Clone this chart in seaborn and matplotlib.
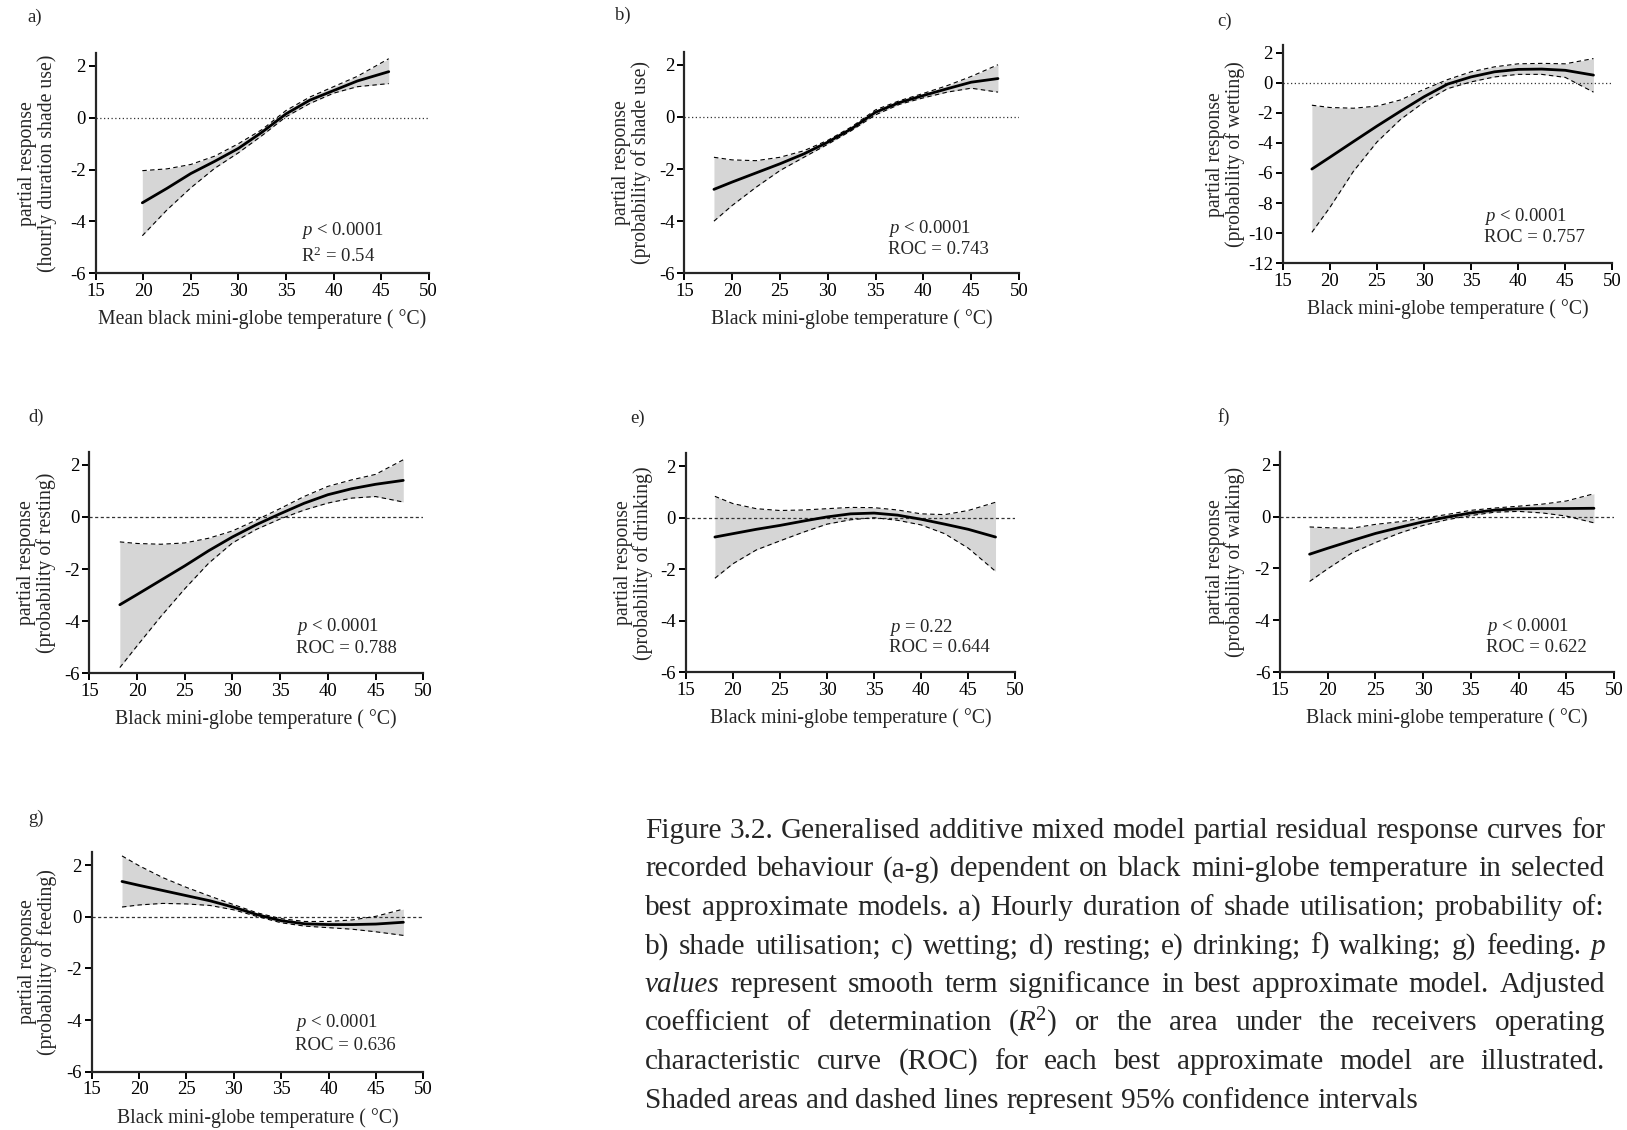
import numpy as np
import pandas as pd
import matplotlib
matplotlib.use("Agg")
import matplotlib.pyplot as plt
from matplotlib.transforms import ScaledTranslation
import seaborn as sns

sns.set_style("ticks")
plt.rcParams['font.family'] = ['Liberation Serif', 'DejaVu Serif']
plt.rcParams['mathtext.fontset'] = 'custom'
plt.rcParams['mathtext.rm'] = 'Liberation Serif'
plt.rcParams['mathtext.it'] = 'Liberation Serif:italic'
plt.rcParams['axes.unicode_minus'] = False

# ---------------- data ----------------
x_a = [19.9, 22.5, 25, 27.5, 30, 32.5, 35, 37.5, 40, 42.5, 45.8]
fit_a = [-3.28, -2.72, -2.15, -1.68, -1.18, -0.55, 0.15, 0.68, 1.05, 1.42, 1.78]
up_a = [-2.04, -1.97, -1.80, -1.48, -1.00, -0.45, 0.28, 0.80, 1.20, 1.60, 2.28]
lo_a = [-4.55, -3.55, -2.70, -1.95, -1.35, -0.68, 0.04, 0.55, 0.95, 1.20, 1.32]

x_b = [18.1, 20, 22.5, 25, 27.5, 30, 32.5, 35, 37.5, 40, 42.5, 45, 47.8]
fit_b = [-2.78, -2.50, -2.15, -1.80, -1.42, -0.97, -0.45, 0.18, 0.55, 0.82, 1.08, 1.33, 1.47]
up_b = [-1.55, -1.65, -1.68, -1.55, -1.30, -0.90, -0.38, 0.27, 0.62, 0.90, 1.20, 1.55, 2.00]
lo_b = [-4.00, -3.40, -2.70, -2.06, -1.55, -1.05, -0.52, 0.08, 0.48, 0.73, 0.95, 1.10, 0.95]

x_c = [18.1, 20, 22.5, 25, 27.5, 30, 32.5, 35, 37.5, 40, 42.5, 45, 48]
fit_c = [-5.74, -4.96, -3.92, -2.89, -1.90, -0.94, -0.10, 0.38, 0.72, 0.88, 0.90, 0.82, 0.50]
up_c = [-1.50, -1.65, -1.70, -1.56, -1.15, -0.45, 0.20, 0.72, 1.05, 1.25, 1.28, 1.25, 1.60]
lo_c = [-9.94, -8.30, -5.90, -3.95, -2.45, -1.30, -0.40, 0.05, 0.38, 0.55, 0.55, 0.35, -0.63]

x_d = [18.2, 20, 22.5, 25, 27.5, 30, 32.5, 35, 37.5, 40, 42.5, 45, 47.9]
fit_d = [-3.37, -2.98, -2.43, -1.88, -1.30, -0.77, -0.30, 0.12, 0.52, 0.85, 1.08, 1.25, 1.40]
up_d = [-0.96, -1.02, -1.05, -1.00, -0.82, -0.54, -0.12, 0.32, 0.78, 1.17, 1.42, 1.63, 2.19]
lo_d = [-5.78, -4.95, -3.82, -2.76, -1.78, -1.00, -0.48, -0.08, 0.26, 0.53, 0.72, 0.78, 0.57]

x_e = [18.1, 20, 22.5, 25, 27.5, 30, 32.5, 35, 37.5, 40, 42.5, 45, 47.9]
fit_e = [-0.75, -0.62, -0.45, -0.30, -0.13, 0.03, 0.15, 0.18, 0.10, -0.06, -0.25, -0.45, -0.75]
up_e = [0.83, 0.55, 0.35, 0.28, 0.30, 0.35, 0.40, 0.39, 0.30, 0.15, 0.12, 0.28, 0.60]
lo_e = [-2.35, -1.79, -1.25, -0.90, -0.56, -0.25, -0.08, 0.00, -0.10, -0.28, -0.62, -1.18, -2.08]

x_f = [18.1, 20, 22.5, 25, 27.5, 30, 32.5, 35, 37.5, 40, 42.5, 45, 47.9]
fit_f = [-1.45, -1.22, -0.93, -0.65, -0.42, -0.20, -0.02, 0.14, 0.25, 0.30, 0.31, 0.31, 0.32]
up_f = [-0.40, -0.43, -0.45, -0.30, -0.20, -0.06, 0.08, 0.24, 0.33, 0.40, 0.48, 0.60, 0.88]
lo_f = [-2.50, -2.01, -1.41, -1.00, -0.64, -0.34, -0.12, 0.04, 0.17, 0.20, 0.14, 0.02, -0.24]

x_g = [18.2, 20, 22.5, 25, 27.5, 30, 32.5, 35, 37.5, 40, 42.5, 45, 47.9]
fit_g = [1.37, 1.22, 1.02, 0.82, 0.62, 0.37, 0.08, -0.15, -0.27, -0.30, -0.30, -0.28, -0.21]
up_g = [2.36, 1.98, 1.52, 1.14, 0.80, 0.47, 0.15, -0.07, -0.18, -0.18, -0.12, 0.02, 0.30]
lo_g = [0.38, 0.46, 0.52, 0.50, 0.44, 0.27, 0.01, -0.23, -0.36, -0.42, -0.48, -0.58, -0.72]

panel_letters = ['a)', 'b)', 'c)', 'd)', 'e)', 'f)', 'g)']
ylabels = ['partial response\n(hourly duration shade use)',
           'partial response\n(probability of shade use)',
           'partial response\n(probability of wetting)',
           'partial response\n(probability of resting)',
           'partial response\n(probability of drinking)',
           'partial response\n(probability of walking)',
           'partial response\n(probability of feeding)']
xlabels = ['Mean black mini-globe temperature ( °C)'] + ['Black mini-globe temperature ( °C)'] * 6
stat_line1 = ['$p$ < 0.0001', '$p$ < 0.0001', '$p$ < 0.0001', '$p$ < 0.0001',
              '$p$ = 0.22', '$p$ < 0.0001', '$p$ < 0.0001']
stat_line2 = ['R$^{2}$ = 0.54', 'ROC = 0.743', 'ROC = 0.757', 'ROC = 0.788',
              'ROC = 0.644', 'ROC = 0.622', 'ROC = 0.636']
x_ticks = [15, 20, 25, 30, 35, 40, 45, 50]
y_ticks_std = [-6, -4, -2, 0, 2]
y_ticks_c = [-12, -10, -8, -6, -4, -2, 0, 2]

series = [(x_a, fit_a, lo_a, up_a), (x_b, fit_b, lo_b, up_b), (x_c, fit_c, lo_c, up_c),
          (x_d, fit_d, lo_d, up_d), (x_e, fit_e, lo_e, up_e), (x_f, fit_f, lo_f, up_f),
          (x_g, fit_g, lo_g, up_g)]

caption_lines = [
    "Figure 3.2. Generalised additive mixed model partial residual response curves for",
    "recorded behaviour (a-g) dependent on black mini-globe temperature in selected",
    "best approximate models. a) Hourly duration of shade utilisation; probability of:",
    "b) shade utilisation; c) wetting; d) resting; e) drinking; f) walking; g) feeding. *p",
    "*values represent smooth term significance in best approximate model. Adjusted",
    "coefficient of determination (*R2) or the area under the receivers operating",
    "characteristic curve (ROC) for each best approximate model are illustrated.",
    "Shaded areas and dashed lines represent 95% confidence intervals",
]

# ---------------- layout (pixels in the 1627x1130 canvas) ----------------
FW, FH = 1627, 1130
fig = plt.figure(figsize=(FW / 100, FH / 100), dpi=100)

# (left, right, top, bottom) of each axes
boxes = [(95.7, 428.7, 53, 273.3), (684.3, 1019, 51.7, 273.3), (1282.7, 1612.3, 45, 263.3),
         (89.3, 423.3, 451.7, 673.3), (685.7, 1015.3, 453.3, 672.3), (1280, 1614, 451.7, 672.3),
         (91.7, 423.3, 852.3, 1071.7)]
ylims = [(-6, 2.5)] * 2 + [(-12, 2.5)] + [(-6, 2.5)] * 4
letter_pos = [(27, 17), (615, 15), (1217, 21), (28, 417), (630, 418), (1217, 417), (28, 818)]
ylab_off = [49, 43, 48, 43, 43, 45, 45]
stat_pos = [(36.6, -4.33, -5.33), (36.3, -4.3, -5.07), (36.4, -8.9, -10.28), (36.65, -4.21, -5.04),
            (36.6, -4.27, -5.05), (36.6, -4.24, -5.04), (36.5, -4.11, -4.97)]
zero_styles = [(0, (1, 2))] * 3 + [(0, (2.5, 2))] * 4

TICK = 13.5
LAB = 14.2
for i, (l, r, t, b) in enumerate(boxes):
    ax = fig.add_axes([l / FW, 1 - b / FH, (r - l) / FW, (b - t) / FH])
    xs, fit, lo, up = series[i]
    df = pd.DataFrame({'temp': xs, 'fit': fit, 'lower': lo, 'upper': up})
    ax.fill_between(df['temp'], df['lower'], df['upper'], color='#d6d6d6', lw=0, zorder=1)
    ax.axhline(0, color='#333333', lw=0.9, ls=zero_styles[i], zorder=2)
    sns.lineplot(data=df, x='temp', y='upper', ax=ax, color='black', lw=0.8,
                 linestyle=(0, (4, 3)), zorder=3)
    sns.lineplot(data=df, x='temp', y='lower', ax=ax, color='black', lw=0.8,
                 linestyle=(0, (4, 3)), zorder=3)
    sns.lineplot(data=df, x='temp', y='fit', ax=ax, color='black', lw=2.0, zorder=4)

    ax.set_xlim(15, 50)
    ax.set_ylim(*ylims[i])
    ax.set_xticks(x_ticks)
    ax.set_yticks(y_ticks_c if i == 2 else y_ticks_std)
    sns.despine(ax=ax)
    for s in ['left', 'bottom']:
        ax.spines[s].set_linewidth(1.6)
    ax.tick_params(axis='both', width=1.4, length=5, labelsize=TICK, pad=2, colors='black')
    ax.set_facecolor('none')

    ax.set_xlabel(xlabels[i], fontsize=LAB)
    ax.xaxis.set_label_coords(0.5, 0, transform=ax.transAxes +
                              ScaledTranslation(0, -36 / 100, fig.dpi_scale_trans))
    ax.set_ylabel(ylabels[i], fontsize=LAB, linespacing=1.0)
    ax.yaxis.set_label_coords(0, 0.5, transform=ax.transAxes +
                              ScaledTranslation(-(ylab_off[i] - 10) / 100, 0, fig.dpi_scale_trans))

    sx, sy1, sy2 = stat_pos[i]
    ax.text(sx, sy1, stat_line1[i], fontsize=TICK, va='center', ha='left')
    ax.text(sx, sy2, stat_line2[i], fontsize=TICK, va='center', ha='left')

    lx, ly = letter_pos[i]
    fig.text(lx / FW, 1 - ly / FH, panel_letters[i], fontsize=TICK, va='center', ha='left')

# ---------------- justified caption ----------------
renderer = fig.canvas.get_renderer()


def make_tokens(line):
    toks = []
    for w in line.split(' '):
        if w == '(*R2)':
            toks.append(('($R$$^{2}$)', {}))
        elif w.startswith('*'):
            toks.append((w[1:], {'style': 'italic'}))
        else:
            toks.append((w, {}))
    return toks


def measure(s, size, kw):
    t = fig.text(0, 0, s, fontsize=size, **kw)
    w = t.get_window_extent(renderer).width
    t.remove()
    return w


CAP_LEFT, CAP_RIGHT = 645, 1605
last_target = 1419 - 645
ref_size = 20
last_w = measure(caption_lines[-1], ref_size, {})
cap_size = ref_size * last_target / last_w
space_w = measure('a b', cap_size, {}) - measure('ab', cap_size, {})
baseline0, step = 838, 38.5
for li, line in enumerate(caption_lines):
    toks = make_tokens(line)
    widths = [measure(s, cap_size, kw) for s, kw in toks]
    if li < len(caption_lines) - 1:
        gap = (CAP_RIGHT - CAP_LEFT - sum(widths)) / (len(toks) - 1)
    else:
        gap = space_w
    x = CAP_LEFT
    yb = baseline0 + li * step
    for (s, kw), w in zip(toks, widths):
        fig.text(x / FW, 1 - yb / FH, s, fontsize=cap_size, va='baseline', ha='left', **kw)
        x += w + gap

fig.savefig('out.png', dpi=100)
